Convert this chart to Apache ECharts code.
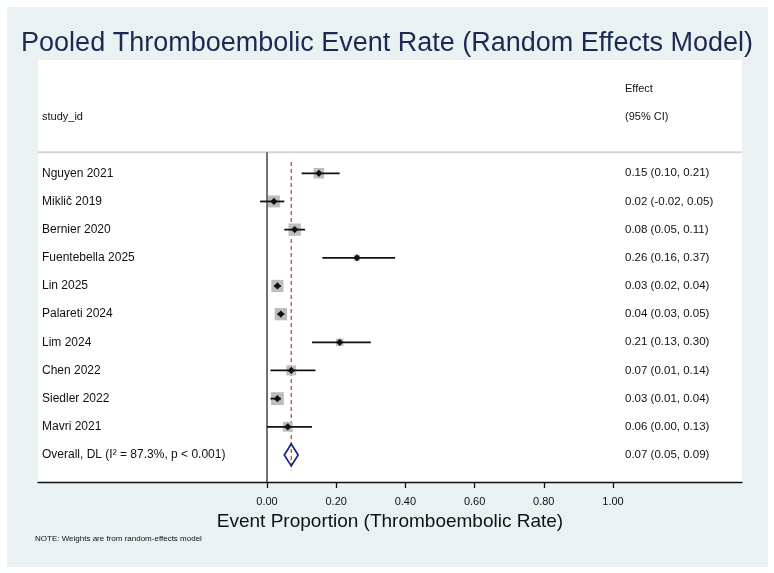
<!DOCTYPE html>
<html>
<head>
<meta charset="utf-8">
<title>Pooled Thromboembolic Event Rate</title>
<script src="https://cdn.jsdelivr.net/npm/echarts@6/dist/echarts.min.js"></script>
<style>
  html, body { margin: 0; padding: 0; background: #fff; }
  #chart { width: 774px; height: 573px; }
</style>
</head>
<body>
<div id="chart"></div>
<script>
// study rows (top to bottom)
const studies = ['Nguyen 2021', 'Miklič 2019', 'Bernier 2020', 'Fuentebella 2025', 'Lin 2025',
  'Palareti 2024', 'Lim 2024', 'Chen 2022', 'Siedler 2022', 'Mavri 2021'];
const effects = [0.15, 0.02, 0.08, 0.26, 0.03, 0.04, 0.21, 0.07, 0.03, 0.06];
const lower   = [0.10, -0.02, 0.05, 0.16, 0.02, 0.03, 0.13, 0.01, 0.01, 0.00];
const upper   = [0.21, 0.05, 0.11, 0.37, 0.04, 0.05, 0.30, 0.14, 0.04, 0.13];
// random-effects weights (%)
const weights = [9.6, 12.2, 13.2, 3.1, 12.8, 13.2, 4.8, 8.4, 14.3, 8.4];

// pooled estimate
const overallLabel = 'Overall, DL (I² = 87.3%, p < 0.001)';
const overallEst = 0.07;
const overallLower = 0.05;
const overallUpper = 0.09;

const xTicks = [0, 0.2, 0.4, 0.6, 0.8, 1.0];

const FONT = 'Liberation Sans, Arial, sans-serif';
const TEXT = '#111';

function ciText(e, l, u) {
  return e.toFixed(2) + ' (' + l.toFixed(2) + ', ' + u.toFixed(2) + ')';
}

const rowData = studies.map((s, i) => [i, effects[i], lower[i], upper[i], weights[i]]);
const overallRow = studies.length;

// one study row: weight box, CI line, point, label, effect text
function renderStudy(params, api) {
  const i = api.value(0);
  const c = api.coord([api.value(1), i]);
  const l = api.coord([api.value(2), i]);
  const h = api.coord([api.value(3), i]);
  const side = 3.4 * Math.sqrt(api.value(4));
  const cs = params.coordSys;
  const m = 3.6;
  return {
    type: 'group',
    children: [
      { type: 'rect', shape: { x: c[0] - side / 2, y: c[1] - side / 2, width: side, height: side },
        style: { fill: '#bdbdbd' } },
      { type: 'line', shape: { x1: l[0], y1: l[1], x2: h[0], y2: h[1] },
        style: { stroke: '#111', lineWidth: 1.8 } },
      { type: 'polygon', shape: { points: [[c[0], c[1] - m], [c[0] + m, c[1]], [c[0], c[1] + m], [c[0] - m, c[1]]] },
        style: { fill: '#111' } },
      { type: 'text', x: cs.x + 4, y: c[1],
        style: { text: studies[i], fontSize: 12, fontFamily: FONT, fill: TEXT, verticalAlign: 'middle' } },
      { type: 'text', x: cs.x + cs.width - 117, y: c[1],
        style: { text: ciText(effects[i], lower[i], upper[i]), fontSize: 11.5, fontFamily: FONT, fill: TEXT, verticalAlign: 'middle' } }
    ]
  };
}

// pooled diamond row
function renderOverall(params, api) {
  const c = api.coord([api.value(1), api.value(0)]);
  const l = api.coord([api.value(2), api.value(0)]);
  const h = api.coord([api.value(3), api.value(0)]);
  const cs = params.coordSys;
  const hh = 11;
  return {
    type: 'group',
    children: [
      { type: 'polygon', shape: { points: [[l[0], c[1]], [c[0], c[1] - hh], [h[0], c[1]], [c[0], c[1] + hh]] },
        style: { fill: 'none', stroke: '#1c2485', lineWidth: 1.7 } },
      { type: 'text', x: cs.x + 4, y: c[1],
        style: { text: overallLabel, fontSize: 12, fontFamily: FONT, fill: TEXT, verticalAlign: 'middle' } },
      { type: 'text', x: cs.x + cs.width - 117, y: c[1],
        style: { text: ciText(overallEst, overallLower, overallUpper), fontSize: 11.5, fontFamily: FONT, fill: TEXT, verticalAlign: 'middle' } }
    ]
  };
}

// header separator, null line at 0, dashed line at pooled estimate
function renderRefLines(params, api) {
  const cs = params.coordSys;
  const sep = api.coord([0, -0.75]);
  const dTop = api.coord([overallEst, -0.4]);
  const dBot = api.coord([overallEst, overallRow + 0.55]);
  return {
    type: 'group',
    children: [
      { type: 'line', shape: { x1: cs.x, y1: sep[1], x2: cs.x + cs.width, y2: sep[1] },
        style: { stroke: '#d6d6d6', lineWidth: 2 } },
      { type: 'line', shape: { x1: sep[0], y1: sep[1], x2: sep[0], y2: cs.y + cs.height },
        style: { stroke: '#444', lineWidth: 1.5 } },
      { type: 'line', shape: { x1: dTop[0], y1: dTop[1], x2: dBot[0], y2: dBot[1] },
        style: { stroke: '#b24c4a', lineWidth: 1.3, lineDash: [4, 3] } }
    ]
  };
}

const chart = echarts.init(document.getElementById('chart'));
chart.setOption({
  backgroundColor: '#fff',
  animation: false,
  title: {
    text: 'Pooled Thromboembolic Event Rate (Random Effects Model)',
    left: 'center',
    top: 25,
    textStyle: { fontSize: 27, fontWeight: 'normal', color: '#1b2a52', fontFamily: FONT }
  },
  graphic: [
    { type: 'rect', z: -10, shape: { x: 7, y: 7, width: 761, height: 560 }, style: { fill: '#e9f1f3' } },
    { type: 'rect', z: -9, shape: { x: 38, y: 60, width: 704, height: 422 }, style: { fill: '#fff' } },
    { type: 'text', left: 625, top: 83, style: { text: 'Effect', fontSize: 11, fontFamily: FONT, fill: TEXT } },
    { type: 'text', left: 625, top: 111, style: { text: '(95% CI)', fontSize: 11, fontFamily: FONT, fill: TEXT } },
    { type: 'text', left: 42, top: 111, style: { text: 'study_id', fontSize: 11, fontFamily: FONT, fill: TEXT } },
    { type: 'text', left: 35, top: 535, style: { text: 'NOTE: Weights are from random-effects model', fontSize: 8, fontFamily: FONT, fill: TEXT } }
  ],
  grid: { left: 38, right: 32, top: 60, bottom: 91 },
  xAxis: {
    type: 'value',
    min: -0.662,
    max: 1.373,
    splitLine: { show: false },
    axisLine: { onZero: false, lineStyle: { color: '#111', width: 1.3 } },
    axisTick: { customValues: xTicks, length: 6, lineStyle: { color: '#111', width: 1.3 } },
    axisLabel: { customValues: xTicks, formatter: v => v.toFixed(2), fontSize: 11, color: TEXT, fontFamily: FONT, margin: 14 },
    name: 'Event Proportion (Thromboembolic Rate)',
    nameLocation: 'middle',
    nameGap: 27,
    nameTextStyle: { fontSize: 19, color: TEXT, fontFamily: FONT }
  },
  yAxis: {
    type: 'value',
    show: false,
    inverse: true,
    min: -4.022,
    max: 10.96
  },
  series: [
    { type: 'custom', name: 'ref', renderItem: renderRefLines, data: [[0, 0]], encode: { x: 0, y: 1 }, z: 1 },
    { type: 'custom', name: 'studies', renderItem: renderStudy, data: rowData, encode: { x: [1, 2, 3], y: 0 }, z: 2 },
    { type: 'custom', name: 'overall', renderItem: renderOverall,
      data: [[overallRow, overallEst, overallLower, overallUpper]], encode: { x: [1, 2, 3], y: 0 }, z: 2 }
  ]
});
</script>
</body>
</html>
